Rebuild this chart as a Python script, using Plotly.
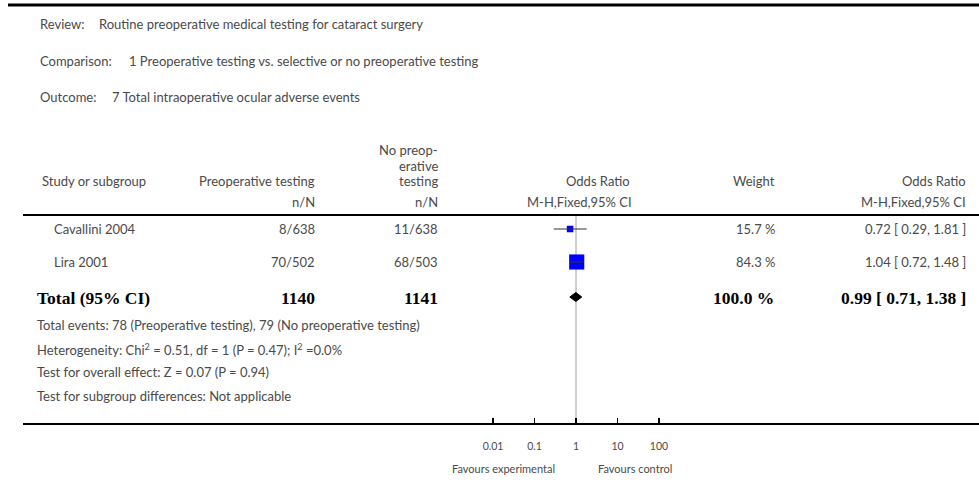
import plotly.graph_objects as go

# ---------------- data ----------------
review = "Routine preoperative medical testing for cataract surgery"
comparison = "1 Preoperative testing vs. selective or no preoperative testing"
outcome = "7 Total intraoperative ocular adverse events"

studies = ["Cavallini 2004", "Lira 2001"]
exp_events = [8, 70]
exp_total = [638, 502]
ctl_events = [11, 68]
ctl_total = [638, 503]
weights = [15.7, 84.3]
or_est = [0.72, 1.04]
or_lo = [0.29, 0.72]
or_hi = [1.81, 1.48]

total_exp = 1140
total_ctl = 1141
total_weight = 100.0
total_or = 0.99
total_lo = 0.71
total_hi = 1.38

footer_lines = [
    "Total events: 78 (Preoperative testing), 79 (No preoperative testing)",
    "Heterogeneity: Chi<sup>2</sup> = 0.51, df = 1 (P = 0.47); I<sup>2</sup> =0.0%",
    "Test for overall effect: Z = 0.07 (P = 0.94)",
    "Test for subgroup differences: Not applicable",
]

tick_vals = [0.01, 0.1, 1, 10, 100]
tick_text = ["0.01", "0.1", "1", "10", "100"]

# ---------------- layout constants ----------------
W, H = 979, 501
AXIS_Y = 424          # pixel row of the forest axis
ROW_Y = [229, 262]    # study rows (pixels from top)
TOTAL_Y = 297
FOOT_Y = [325, 349, 372, 396]

FONT = "Lato, 'Open Sans', sans-serif"
SERIF = "'Liberation Serif', 'DejaVu Serif', serif"
GREY = "#4a4a4a"
FS = 13

def px(x):
    return x / W

def py(y):
    return 1 - y / H

fig = go.Figure()

# squares
fig.add_trace(go.Scatter(
    x=or_est, y=ROW_Y, mode="markers",
    marker=dict(symbol="square", color="#0000ff", opacity=1,
                size=[1.65 * w ** 0.5 for w in weights],
                line=dict(width=0)),
    hoverinfo="skip", showlegend=False))

# CI lines
cx, cy = [], []
for lo, hi, y in zip(or_lo, or_hi, ROW_Y):
    cx += [lo, hi, None]
    cy += [y, y, None]
fig.add_trace(go.Scatter(x=cx, y=cy, mode="lines",
                         line=dict(color="#333333", width=1),
                         hoverinfo="skip", showlegend=False))

# diamond
fig.add_trace(go.Scatter(
    x=[total_lo, total_or, total_hi, total_or, total_lo],
    y=[TOTAL_Y, TOTAL_Y - 4.5, TOTAL_Y, TOTAL_Y + 4.5, TOTAL_Y],
    mode="lines", fill="toself", fillcolor="black",
    line=dict(color="black", width=1), hoverinfo="skip", showlegend=False))

# vertical line at OR = 1
fig.add_shape(type="line", xref="x", yref="y", x0=1, x1=1, y0=215, y1=AXIS_Y,
              line=dict(color="#a0a0a0", width=1), layer="below")

# horizontal rules
fig.add_shape(type="line", xref="paper", yref="paper", x0=px(8), x1=1,
              y0=py(5), y1=py(5), line=dict(color="black", width=3))
fig.add_shape(type="line", xref="paper", yref="paper", x0=px(23), x1=1,
              y0=py(215), y1=py(215), line=dict(color="black", width=2))
fig.add_shape(type="line", xref="paper", yref="paper", x0=px(23), x1=1,
              y0=py(AXIS_Y), y1=py(AXIS_Y), line=dict(color="black", width=2))

def txt(x, y, s, anchor="left", size=FS, color=GREY, family=FONT, bold=False):
    if bold:
        s = "<b>" + s + "</b>"
    fig.add_annotation(x=px(x), y=py(y), xref="paper", yref="paper", text=s,
                       showarrow=False, xanchor=anchor, yanchor="middle",
                       font=dict(size=size, color=color, family=family))

# header info
txt(38, 24, "Review:")
txt(97, 24, review)
txt(38, 61, "Comparison:")
txt(127, 61, comparison)
txt(38, 97, "Outcome:")
txt(110, 97, outcome)

# column headers
txt(40, 181, "Study or subgroup")
txt(317, 181, "Preoperative testing", "right")
txt(440, 150, "No preop-", "right")
txt(440, 166, "erative", "right")
txt(440, 181, "testing", "right")
txt(317, 202, "n/N", "right")
txt(440, 202, "n/N", "right")
txt(632, 181, "Odds Ratio", "right")
txt(634, 202, "M-H,Fixed,95% CI", "right")
txt(777, 181, "Weight", "right")
txt(968, 181, "Odds Ratio", "right")
txt(968, 202, "M-H,Fixed,95% CI", "right")

# study rows
for i, name in enumerate(studies):
    y = ROW_Y[i]
    txt(52, y, name)
    txt(317, y, f"{exp_events[i]}/{exp_total[i]}", "right")
    txt(440, y, f"{ctl_events[i]}/{ctl_total[i]}", "right")
    txt(777, y, f"{weights[i]:.1f} %", "right")
    txt(968, y, f"{or_est[i]:.2f} [ {or_lo[i]:.2f}, {or_hi[i]:.2f} ]", "right")

# total row
BS = 17.5
txt(35, TOTAL_Y + 1, "Total (95% CI)", size=BS, color="black", family=SERIF, bold=True)
txt(317, TOTAL_Y + 1, f"{total_exp}", "right", BS, "black", SERIF, True)
txt(440, TOTAL_Y + 1, f"{total_ctl}", "right", BS, "black", SERIF, True)
txt(776, TOTAL_Y + 1, f"{total_weight:.1f} %", "right", BS, "black", SERIF, True)
txt(968, TOTAL_Y + 1, f"{total_or:.2f} [ {total_lo:.2f}, {total_hi:.2f} ]", "right", BS, "black", SERIF, True)

for s, y in zip(footer_lines, FOOT_Y):
    txt(35, y, s)

# favours labels
txt(503, 468, "Favours experimental", "center", size=11)
txt(635, 468, "Favours control", "center", size=11)

# axes: x is log OR axis, 41.5 px per decade with 1 at x=576
PPD = 41.5
x_lo = (0 - 576) / PPD
x_hi = (W - 576) / PPD

fig.update_layout(
    width=W, height=H,
    margin=dict(l=0, r=0, t=0, b=0),
    paper_bgcolor="white", plot_bgcolor="white",
    xaxis=dict(type="log", range=[x_lo, x_hi], domain=[0, 1],
               tickvals=tick_vals, ticktext=tick_text,
               ticks="inside", ticklen=6, tickwidth=1.5, tickcolor="black",
               showline=False, showgrid=False, zeroline=False,
               tickfont=dict(size=10.5, color=GREY, family=FONT),
               ticklabelstandoff=14, fixedrange=True),
    yaxis=dict(range=[AXIS_Y, 0], domain=[1 - AXIS_Y / H, 1],
               visible=False, showgrid=False, zeroline=False, fixedrange=True),
    showlegend=False,
)

fig.write_html("out.html",
               config={"displayModeBar": False, "staticPlot": True},
               post_script="document.body.style.margin='0';document.body.style.overflow='hidden';")
